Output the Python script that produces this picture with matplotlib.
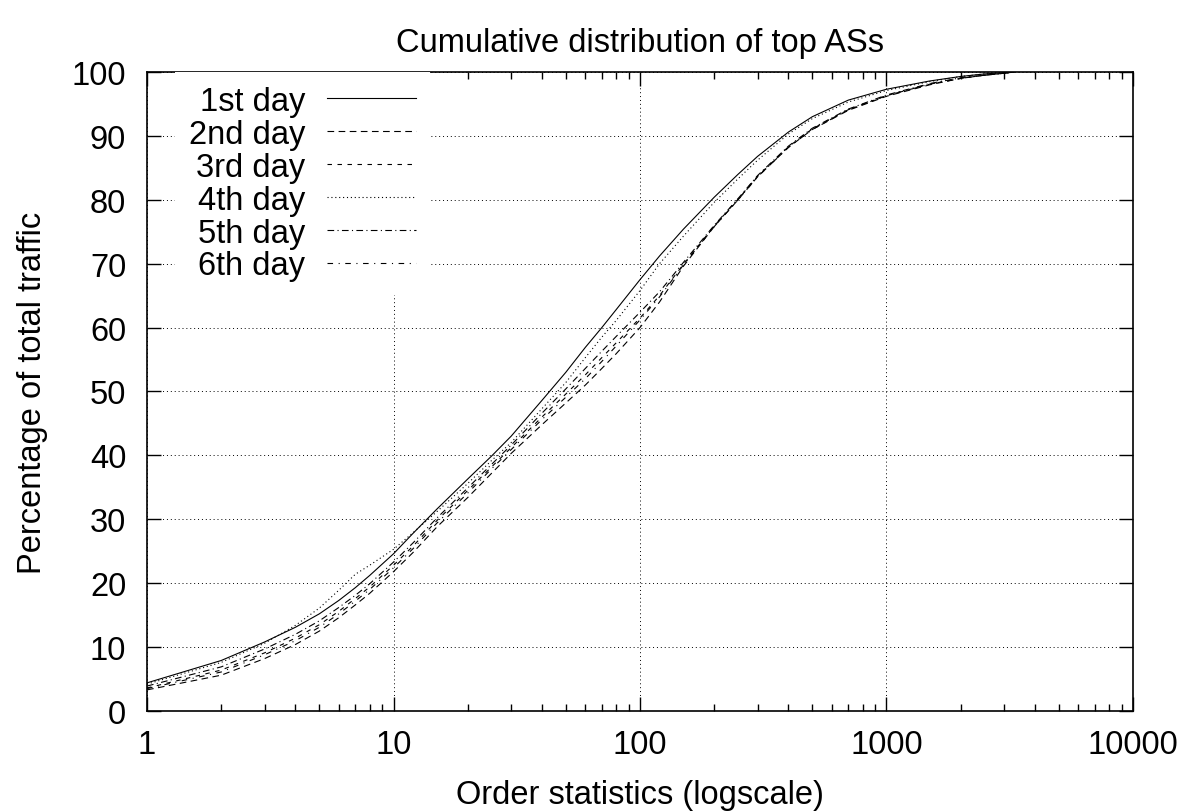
import matplotlib
matplotlib.use("Agg")
import matplotlib.pyplot as plt
from matplotlib.ticker import FixedLocator, FixedFormatter, LogLocator, NullFormatter

plt.rcParams['font.family'] = ['Liberation Sans', 'DejaVu Sans']

x = [1, 2, 3, 4, 5, 6, 7, 8, 10, 12, 15, 20, 25, 30, 40, 50, 60, 70, 80, 100,
     120, 150, 200, 250, 300, 400, 500, 700, 1000, 1500, 2000, 2500, 3000, 3300]

day1 = [4.4, 7.9, 10.8, 13.1, 15.2, 17.3, 19.3, 21.2, 24.6, 27.8, 31.6, 36.3,
        39.9, 43.0, 48.6, 53.0, 56.9, 60.0, 62.8, 67.5, 71.2, 75.4, 80.4, 84.0,
        86.8, 90.6, 93.0, 95.6, 97.3, 98.6, 99.3, 99.7, 99.9, 100.0]
day2 = [3.3, 5.6, 8.2, 10.4, 12.5, 14.6, 16.6, 18.4, 21.8, 24.8, 28.8, 33.4,
        37.2, 40.3, 44.8, 48.2, 51.0, 53.6, 55.9, 60.0, 64.0, 69.6, 75.8, 80.0,
        83.6, 88.2, 91.0, 94.0, 96.2, 98.0, 99.0, 99.5, 99.8, 100.0]
day3 = [3.6, 6.4, 9.1, 11.4, 13.5, 15.6, 17.6, 19.4, 22.8, 25.8, 29.8, 34.5,
        38.2, 41.2, 46.0, 49.6, 52.6, 55.3, 57.6, 61.5, 65.0, 69.9, 75.9, 80.1,
        83.7, 88.3, 91.1, 94.1, 96.3, 98.1, 99.0, 99.5, 99.8, 100.0]
day4 = [4.2, 7.6, 10.6, 13.4, 16.1, 18.9, 21.4, 22.8, 25.3, 27.9, 31.2, 35.6,
        39.2, 42.0, 47.3, 51.4, 55.3, 58.5, 61.1, 65.8, 70.0, 74.3, 79.6, 83.3,
        86.2, 90.3, 92.7, 95.3, 97.1, 98.5, 99.3, 99.7, 99.9, 100.0]
day5 = [3.9, 6.9, 9.7, 12.0, 14.1, 16.2, 18.1, 19.9, 23.3, 26.3, 30.2, 34.9,
        38.6, 41.6, 46.6, 50.4, 53.6, 56.3, 58.6, 62.4, 65.6, 70.2, 76.0, 80.2,
        83.8, 88.4, 91.2, 94.2, 96.4, 98.2, 99.1, 99.5, 99.8, 100.0]
day6 = [3.5, 6.1, 8.8, 11.0, 13.1, 15.2, 17.2, 19.0, 22.4, 25.4, 29.4, 34.1,
        37.9, 40.9, 45.6, 49.1, 52.0, 54.7, 57.1, 61.2, 64.8, 69.8, 75.8, 80.0,
        83.6, 88.2, 91.0, 94.1, 96.3, 98.1, 99.0, 99.5, 99.8, 100.0]

labels = ["1st day", "2nd day", "3rd day", "4th day", "5th day", "6th day"]
series = [day1, day2, day3, day4, day5, day6]
styles = ['-', (0, (6, 4)), (0, (4, 5)), (0, (1, 2.5)), (0, (6, 3, 1, 3)), (0, (5, 5, 1, 5))]

xticks = [1, 10, 100, 1000, 10000]
xticklabels = ["1", "10", "100", "1000", "10000"]
yticks = list(range(0, 101, 10))

FS = 23.5

fig = plt.figure(figsize=(11.83, 8.12), dpi=100)
ax = fig.add_axes([0.1243, 0.1232, 0.9577 - 0.1243, 0.9101 - 0.1232])

lw = 0.8
for ys, lab, ls in zip(series, labels, styles):
    ax.plot(x, ys, color='black', linestyle=ls, linewidth=lw, label=lab)

ax.set_xscale('log')
ax.set_xlim(1, 10000)
ax.set_ylim(0, 100)
ax.xaxis.set_major_locator(FixedLocator(xticks))
ax.xaxis.set_major_formatter(FixedFormatter(xticklabels))
ax.xaxis.set_minor_locator(LogLocator(base=10, subs=range(2, 10)))
ax.xaxis.set_minor_formatter(NullFormatter())
ax.set_yticks(yticks)

ax.tick_params(axis='both', which='major', direction='in', length=10, width=1,
               top=True, right=True, labelsize=FS)
ax.tick_params(axis='x', which='major', pad=13)
ax.tick_params(axis='y', which='major', pad=15)
ax.tick_params(axis='x', which='minor', direction='in', length=5, width=1,
               top=True, bottom=True)
for sp in ax.spines.values():
    sp.set_linewidth(1.2)

ax.grid(True, which='major', color='black', linestyle=(0, (1, 3)), linewidth=0.7)
ax.set_axisbelow(True)

ax.set_title("Cumulative distribution of top ASs", fontsize=FS, pad=15)
ax.set_xlabel("Order statistics (logscale)", fontsize=FS, labelpad=14)
ax.set_ylabel("Percentage of total traffic", fontsize=FS, labelpad=17)

leg = ax.legend(loc='upper right', markerfirst=False, fontsize=FS,
                handlelength=2.75, handletextpad=0.65, labelspacing=0.06,
                borderpad=0.42, borderaxespad=0.0, frameon=True, fancybox=False,
                bbox_to_anchor=((430 - 147) / 986, 1.0))
leg.get_frame().set_facecolor('white')
leg.get_frame().set_edgecolor('none')
leg.get_frame().set_alpha(1.0)

fig.savefig("out.png", dpi=100)
